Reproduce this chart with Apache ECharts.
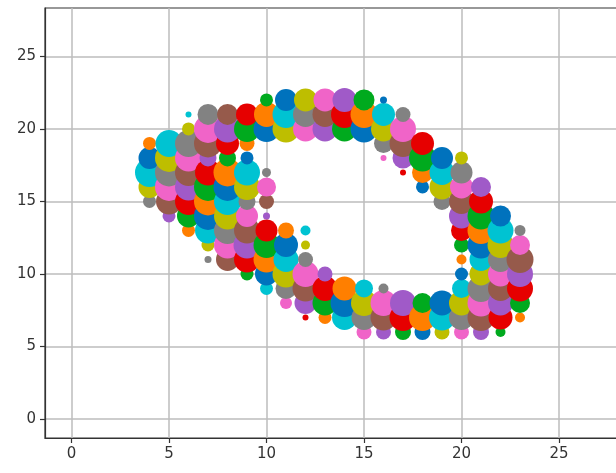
<!DOCTYPE html>
<html><head><meta charset="utf-8">
<style>html,body{margin:0;padding:0;background:#fff}#c{width:616px;height:473px}</style>
<script src="https://cdn.jsdelivr.net/npm/echarts@6/dist/echarts.min.js"></script>
</head><body><div id="c"></div>
<script>
const tickValues = [0, 5, 10, 15, 20, 25];
const palette = ['#0072bd','#ff7f00','#00aa1e','#e60000','#a05ac8','#965a4b','#f064c8','#828282','#bebe00','#00c3d2'];
const gridSide = 28;

const col4  = {x:4,  y:[15,16,17,18,19], d:[13,22,29,22,13]};
const col5  = {x:5,  y:[14,15,16,17,18,19], d:[13,26,28,28,28,27]};
const col6  = {x:6,  y:[13,14,15,16,17,18,19,20,21], d:[13,23,27,27,27,27,27,13,6]};
const col7  = {x:7,  y:[11,12,13,14,15,16,17,18,19,20,21], d:[7,13,26,28,28,28,26,17,28,28,21]};
const col8  = {x:8,  y:[11,12,13,14,15,16,17,18,19,20,21], d:[23,27,27,27,27,28,28,17,23,27,21]};
const col9  = {x:9,  y:[10,11,12,13,14,15,16,17,18,19,20,21], d:[13,26,27,26,22,17,26,26,13,15,26,22]};
const col10 = {x:10, y:[9,10,11,12,13,14,15,16,17,20,21,22], d:[13,23,26,26,22,7,15,19,9,26,25,13]};
const col11 = {x:11, y:[8,9,10,11,12,13,20,21,22], d:[12,21,27,25,24,16,27,27,22]};
const col12 = {x:12, y:[7,8,9,10,11,12,13,20,21,22], d:[6,22,26,26,15,9,10,25,25,23]};
const col13 = {x:13, y:[7,8,9,10,20,21,22], d:[13,25,25,15,25,25,23]};
const col14 = {x:14, y:[7,8,9,20,21,22], d:[25,28,24,25,27,24]};
const col15 = {x:15, y:[6,7,8,9,20,21,22], d:[15,25,26,18,27,27,21]};
const col16 = {x:16, y:[6,7,8,9,18,19,20,21,22], d:[15,26,26,10,6,19,25,23,7]};
const col17 = {x:17, y:[6,7,8,17,18,19,20,21], d:[16,27,26,6,21,27,26,15]};
const col18 = {x:18, y:[6,7,8,16,17,18,19], d:[16,27,20,13,21,27,23]};
const col19 = {x:19, y:[6,7,8,15,16,17,18], d:[15,26,25,17,25,25,22]};
const col20 = {x:20, y:[6,7,8,9,10,11,12,13,14,15,16,17,18], d:[15,25,25,19,13,10,15,21,25,25,23,22,13]};
const col21 = {x:21, y:[6,7,8,9,10,11,12,13,14,15,16], d:[16,27,27,27,23,23,27,27,27,24,20]};
const col22 = {x:22, y:[6,7,8,9,10,11,12,13,14], d:[10,24,25,25,25,25,26,26,21]};
const col23 = {x:23, y:[7,8,9,10,11,12,13], d:[10,20,26,26,27,20,11]};

const columns = [col4,col5,col6,col7,col8,col9,col10,col11,col12,col13,col14,col15,col16,col17,col18,col19,col20,col21,col22,col23];
const points = [];
columns.forEach(c => c.y.forEach((y,i) => points.push([c.x, y, c.d[i]])));

const axisBase = {
  axisLine:{onZero:false,lineStyle:{color:'#333',width:1.2}},
  axisTick:{show:true,length:5,customValues:tickValues,lineStyle:{color:'#333',width:1.2}},
  axisLabel:{customValues:tickValues,color:'#333',fontFamily:'DejaVu Sans',fontSize:15,margin:9},
  splitLine:{show:true,lineStyle:{color:'#bdbdbd',width:1.5}}
};
const chart = echarts.init(document.getElementById('c'),null,{renderer:'canvas'});
chart.setOption({
  animation:false,
  backgroundColor:'#fff',
  grid:{left:45,top:8,width:600,height:430,outerBoundsMode:'none',containLabel:false,show:true,borderColor:'#333',borderWidth:1.2,backgroundColor:'transparent'},
  xAxis:Object.assign({type:'value',min:-1.359,max:29.41},axisBase),
  yAxis:Object.assign({type:'value',min:-1.31,max:28.34},axisBase),
  series:[{
    type:'scatter',
    data:points,
    symbol:'circle',
    symbolSize:v=>v[2],
    itemStyle:{opacity:1,color:p=>palette[(gridSide*p.value[0]+p.value[1])%palette.length]},
    emphasis:{disabled:true}
  }]
});
</script></body></html>
